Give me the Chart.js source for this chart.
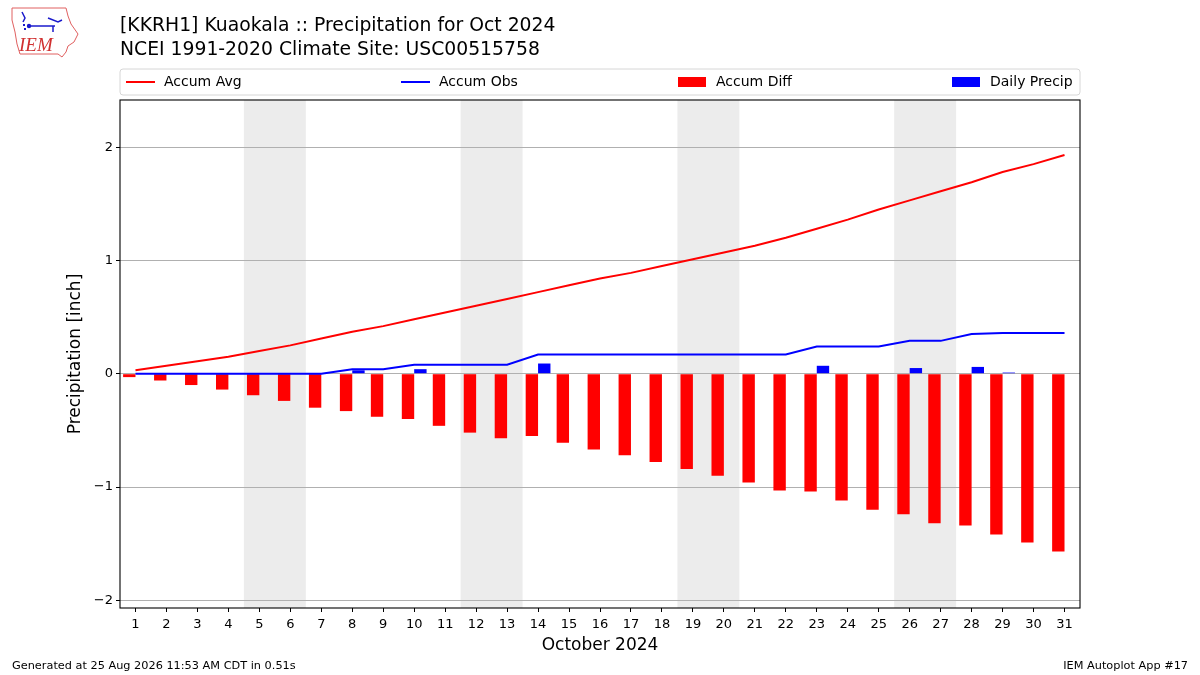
<!DOCTYPE html>
<html>
<head>
<meta charset="utf-8">
<script src="https://cdn.jsdelivr.net/npm/chart.js@4.4.1/dist/chart.umd.min.js"></script>
<style>
html,body{margin:0;padding:0;background:#fff;}
#wrap{width:1200px;height:675px;position:relative;}
</style>
</head>
<body>
<div id="wrap"><canvas id="c" width="1200" height="675"></canvas></div>
<script>
const days = [1,2,3,4,5,6,7,8,9,10,11,12,13,14,15,16,17,18,19,20,21,22,23,24,25,26,27,28,29,30,31];
const accumAvg = [0.03,0.07,0.11,0.15,0.20,0.25,0.31,0.37,0.42,0.48,0.54,0.60,0.66,0.72,0.78,0.84,0.89,0.95,1.01,1.07,1.13,1.20,1.28,1.36,1.45,1.53,1.61,1.69,1.78,1.85,1.93];
const accumObs = [0,0,0,0,0,0,0,0.04,0.04,0.08,0.08,0.08,0.08,0.17,0.17,0.17,0.17,0.17,0.17,0.17,0.17,0.17,0.24,0.24,0.24,0.29,0.29,0.35,0.36,0.36,0.36];
const accumDiff = [-0.03,-0.06,-0.10,-0.14,-0.19,-0.24,-0.30,-0.33,-0.38,-0.40,-0.46,-0.52,-0.57,-0.55,-0.61,-0.67,-0.72,-0.78,-0.84,-0.90,-0.96,-1.03,-1.04,-1.12,-1.20,-1.24,-1.32,-1.34,-1.42,-1.49,-1.57];
const dailyPrecip = [0,0,0,0,0,0,0,0.03,0,0.04,0,0,0,0.09,0,0,0,0,0,0,0,0,0.07,0,0,0.05,0,0.06,0.01,0,0];
const weekendStarts = [5,12,19,26];
const yTicks = [-2,-1,0,1,2];
const seriesNames = ['Accum Avg','Accum Obs','Accum Diff','Daily Precip'];
const titleLines = ['[KKRH1] Kuaokala :: Precipitation for Oct 2024','NCEI 1991-2020 Climate Site: USC00515758'];
const xTitle = 'October 2024';
const yTitle = 'Precipitation [inch]';
const footLeft = 'Generated at 25 Aug 2026 11:53 AM CDT in 0.51s';
const footRight = 'IEM Autoplot App #17';

const FONT = '"DejaVu Sans", "Liberation Sans", sans-serif';
const pts = arr => days.map((d,i)=>({x:d,y:arr[i]}));

const decor = {
  id:'decor',
  beforeDraw(chart){
    const {ctx, chartArea:a, scales:{x}} = chart;
    ctx.save();
    ctx.fillStyle='#fff';
    ctx.fillRect(0,0,chart.width,chart.height);
    ctx.fillStyle='#ececec';
    weekendStarts.forEach(d=>{
      const x0=x.getPixelForValue(d-0.5), x1=x.getPixelForValue(d+1.5);
      ctx.fillRect(x0,a.top,x1-x0,a.bottom-a.top);
    });
    ctx.restore();
  },
  afterDraw(chart){
    const {ctx, chartArea:a} = chart;
    ctx.save();
    // frame
    ctx.strokeStyle='#000'; ctx.lineWidth=1.1;
    ctx.strokeRect(a.left,a.top,a.right-a.left,a.bottom-a.top);
    // titles
    ctx.fillStyle='#000';
    ctx.textBaseline='alphabetic';
    ctx.textAlign='left';
    ctx.font='18.8px '+FONT;
    ctx.fillText(titleLines[0],120,31);
    ctx.fillText(titleLines[1],120,55);
    // axis titles
    ctx.font='17px '+FONT;
    ctx.textAlign='center';
    ctx.fillText(xTitle,(a.left+a.right)/2,650);
    ctx.save();
    ctx.translate(80,(a.top+a.bottom)/2);
    ctx.rotate(-Math.PI/2);
    ctx.fillText(yTitle,0,0);
    ctx.restore();
    // footer
    ctx.font='11.3px '+FONT;
    ctx.textAlign='left';
    ctx.fillText(footLeft,12,669);
    ctx.textAlign='right';
    ctx.fillText(footRight,1188,669);
    // legend
    const lx0=a.left, lx1=a.right, ly0=69, ly1=95, r=3;
    ctx.beginPath();
    ctx.moveTo(lx0+r,ly0);ctx.lineTo(lx1-r,ly0);ctx.quadraticCurveTo(lx1,ly0,lx1,ly0+r);
    ctx.lineTo(lx1,ly1-r);ctx.quadraticCurveTo(lx1,ly1,lx1-r,ly1);
    ctx.lineTo(lx0+r,ly1);ctx.quadraticCurveTo(lx0,ly1,lx0,ly1-r);
    ctx.lineTo(lx0,ly0+r);ctx.quadraticCurveTo(lx0,ly0,lx0+r,ly0);
    ctx.closePath();
    ctx.fillStyle='rgba(255,255,255,0.8)';ctx.fill();
    ctx.strokeStyle='#d6d6d6';ctx.lineWidth=1;ctx.stroke();
    const ds = chart.data.datasets;
    const colX=[126,401,678,952];
    const cy=82;
    ctx.font='14px '+FONT;
    ctx.textAlign='left';ctx.textBaseline='middle';
    ds.forEach((d,i)=>{
      const x0=colX[i];
      if(d.type==='line'){
        ctx.strokeStyle=d.borderColor;ctx.lineWidth=2;
        ctx.beginPath();ctx.moveTo(x0,cy);ctx.lineTo(x0+29,cy);ctx.stroke();
      } else {
        ctx.fillStyle=d.backgroundColor;
        ctx.fillRect(x0,cy-5,28,10);
      }
      ctx.fillStyle='#000';
      ctx.fillText(d.label,x0+38,cy);
    });
    // logo
    ctx.strokeStyle='#e06060';ctx.lineWidth=1;
    ctx.beginPath();
    ctx.moveTo(12,8);ctx.lineTo(66,8);ctx.lineTo(68,16);ctx.lineTo(71,24);ctx.lineTo(78,34);
    ctx.lineTo(74,42);ctx.lineTo(68,46);ctx.lineTo(66,52);ctx.lineTo(62,57);ctx.lineTo(58,54);
    ctx.lineTo(20,54);ctx.lineTo(17,44);ctx.lineTo(15,32);ctx.lineTo(12,20);ctx.closePath();
    ctx.stroke();
    ctx.fillStyle='#d03030';
    ctx.font='italic 19px "Liberation Serif", serif';
    ctx.textAlign='left';ctx.textBaseline='alphabetic';
    ctx.fillText('IEM',19,51);
    ctx.strokeStyle='#1a1acc';ctx.lineWidth=1.5;
    ctx.beginPath();ctx.moveTo(27,26);ctx.lineTo(55,26);ctx.stroke();
    ctx.beginPath();ctx.moveTo(48,18);ctx.lineTo(58,22);ctx.lineTo(62,20);ctx.stroke();
    ctx.beginPath();ctx.moveTo(53,26);ctx.lineTo(53,32);ctx.stroke();
    ctx.beginPath();ctx.moveTo(22,12);ctx.lineTo(25,18);ctx.lineTo(23,22);ctx.stroke();
    ctx.fillStyle='#1a1acc';
    ctx.beginPath();ctx.arc(29,26,2.2,0,Math.PI*2);ctx.fill();
    ctx.fillRect(23,24,2,2);ctx.fillRect(24,28,2,2);
    ctx.restore();
  }
};

new Chart(document.getElementById('c'),{
  type:'bar',
  data:{
    datasets:[
      {type:'line',label:seriesNames[0],data:pts(accumAvg),borderColor:'#ff0000',backgroundColor:'#ff0000',borderWidth:2,pointRadius:0,tension:0,fill:false},
      {type:'line',label:seriesNames[1],data:pts(accumObs),borderColor:'#0000ff',backgroundColor:'#0000ff',borderWidth:2,pointRadius:0,tension:0,fill:false},
      {type:'bar',label:seriesNames[2],data:pts(accumDiff),backgroundColor:'#ff0000',borderWidth:0,barPercentage:1.0,categoryPercentage:0.8},
      {type:'bar',label:seriesNames[3],data:pts(dailyPrecip),backgroundColor:'#0000ff',borderWidth:0,barPercentage:1.0,categoryPercentage:0.8}
    ]
  },
  options:{
    responsive:false,
    animation:false,
    devicePixelRatio:1,
    layout:{padding:{left:0,right:120,top:100,bottom:0}},
    plugins:{legend:{display:false},title:{display:false},tooltip:{enabled:false}},
    scales:{
      x:{
        type:'linear',min:0.5,max:31.5,offset:false,
        afterFit(s){s.height=67;},
        afterBuildTicks(s){s.ticks=days.map(v=>({value:v}));},
        ticks:{color:'#000',font:{family:FONT,size:13},padding:5,autoSkip:false,maxRotation:0,callback:v=>String(v)},
        grid:{display:true,drawOnChartArea:false,tickLength:4,tickColor:'#000',offset:false},
        border:{display:false}
      },
      y:{
        type:'linear',min:-2.068,max:2.416,
        afterFit(s){s.width=120;},
        afterBuildTicks(s){s.ticks=yTicks.map(v=>({value:v}));},
        ticks:{color:'#000',font:{family:FONT,size:13},padding:3,callback:v=>v<0?'\u2212'+Math.abs(v):String(v)},
        grid:{color:'#b0b0b0',lineWidth:1,tickLength:4,tickColor:'#000'},
        border:{display:false}
      }
    }
  },
  plugins:[decor]
});
</script>
</body>
</html>
